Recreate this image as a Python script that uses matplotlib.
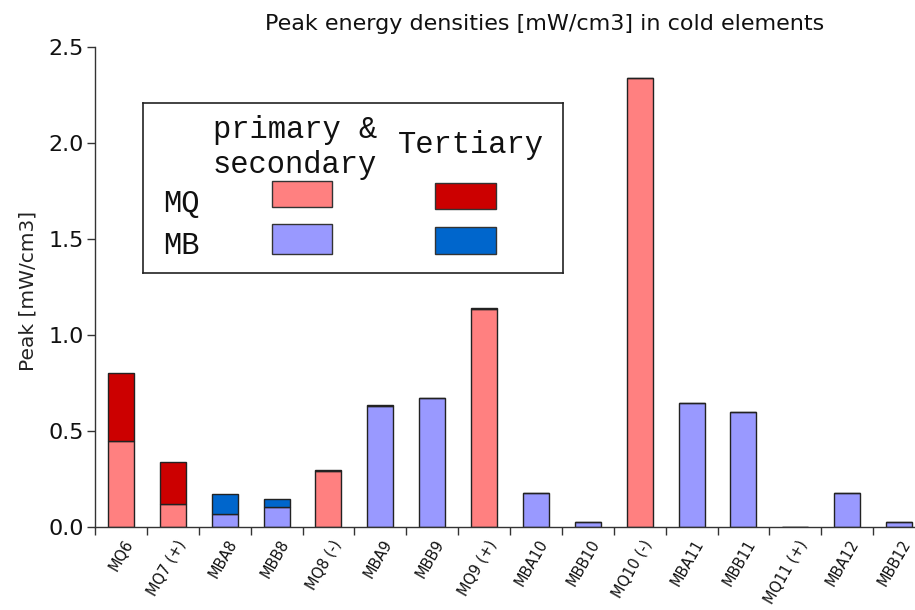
import numpy as np
import matplotlib.pyplot as plt
from matplotlib.patches import Rectangle
import matplotlib.transforms as mtransforms

labels = ['MQ6', 'MQ7 (+)', 'MBA8', 'MBB8', 'MQ8 (-)', 'MBA9', 'MBB9', 'MQ9 (+)',
          'MBA10', 'MBB10', 'MQ10 (-)', 'MBA11', 'MBB11', 'MQ11 (+)', 'MBA12', 'MBB12']
# primary & secondary contribution
prim_sec = [0.448, 0.119, 0.070, 0.105, 0.293, 0.632, 0.671, 1.134,
            0.179, 0.029, 2.336, 0.648, 0.600, 0.0, 0.179, 0.029]
# tertiary contribution (stacked on top)
tertiary = [0.357, 0.223, 0.101, 0.043, 0.007, 0.005, 0.0, 0.006,
            0.0, 0.0, 0.0, 0.0, 0.0, 0.0, 0.0, 0.0]
yticks = [0.0, 0.5, 1.0, 1.5, 2.0, 2.5]

col_mq_ps = '#ff8080'
col_mq_t = '#cc0000'
col_mb_ps = '#9999ff'
col_mb_t = '#0066cc'
edge = '#222222'

is_mq = [l.startswith('MQ') for l in labels]
c_ps = [col_mq_ps if q else col_mb_ps for q in is_mq]
c_t = [col_mq_t if q else col_mb_t for q in is_mq]

fig = plt.figure(figsize=(9.15, 6.1), dpi=100)
W, H = 915, 610
# axes: x from px 95 to 925 (runs a bit past the right edge), y from 46.7 to 527.3
ax = fig.add_axes([95 / W, (H - 527.3) / H, 830 / W, (527.3 - 46.7) / H])

x = np.arange(len(labels))
ax.bar(x, prim_sec, width=0.5, color=c_ps, edgecolor=edge, linewidth=1.0)
ax.bar(x, tertiary, width=0.5, bottom=prim_sec, color=c_t, edgecolor=edge, linewidth=1.0)

ax.set_xlim(-0.5, len(labels) - 0.5)
ax.set_ylim(0, 2.5)
for s in ['top', 'right']:
    ax.spines[s].set_visible(False)
for s in ['left', 'bottom']:
    ax.spines[s].set_color('#333333')
    ax.spines[s].set_linewidth(1.0)

ax.set_yticks(yticks)
ax.set_yticklabels([f'{v:.1f}' for v in yticks], fontsize=16, color='#111111')
ax.tick_params(axis='y', direction='out', length=6, width=1, pad=2, color='#333333')

ax.set_xticks(x)
ax.set_xticks(np.arange(-0.5, len(labels), 1.0), minor=True)
ax.tick_params(axis='x', which='major', length=0, pad=7)
ax.tick_params(axis='x', which='minor', length=6, width=1, color='#333333')
ax.set_xticklabels(labels, rotation=60, ha='right', rotation_mode='anchor',
                   fontsize=10.5, color='#111111')
shift = mtransforms.ScaledTranslation(2 / 100, 0, fig.dpi_scale_trans)
for t in ax.get_xticklabels():
    t.set_transform(t.get_transform() + shift)

fig.text(28 / W, 1 - 291 / H, 'Peak [mW/cm3]', rotation=90, ha='center', va='center',
         fontsize=14.5, color='#222222')
fig.text(545 / W, 1 - 30 / H, 'Peak energy densities [mW/cm3] in cold elements',
         ha='center', va='baseline', fontsize=16, color='#111111')

# legend box drawn as a small axes in pixel units (y pointing down)
lg = fig.add_axes([143 / W, (H - 273) / H, 420 / W, 170 / H])
lg.set_xlim(0, 420)
lg.set_ylim(170, 0)
lg.set_xticks([])
lg.set_yticks([])
for s in lg.spines.values():
    s.set_linewidth(1.2)
    s.set_color('#222222')
mono = dict(family='Liberation Mono', fontsize=22, color='#111111', va='baseline')
lg.text(70, 35, 'primary &', **mono)
lg.text(70, 70, 'secondary', **mono)
lg.text(255, 50, 'Tertiary', **mono)
lg.text(20, 109, 'MQ', **mono)
lg.text(20, 151, 'MB', **mono)
swatches = [(129, 78, 60, 26, col_mq_ps), (292, 80, 61, 26, col_mq_t),
            (129, 121, 60, 30, col_mb_ps), (292, 124, 61, 27, col_mb_t)]
for sx, sy, sw, sh, sc in swatches:
    lg.add_patch(Rectangle((sx, sy), sw, sh, facecolor=sc, edgecolor='#333333', linewidth=1.0))

fig.savefig('out.png', dpi=100)
